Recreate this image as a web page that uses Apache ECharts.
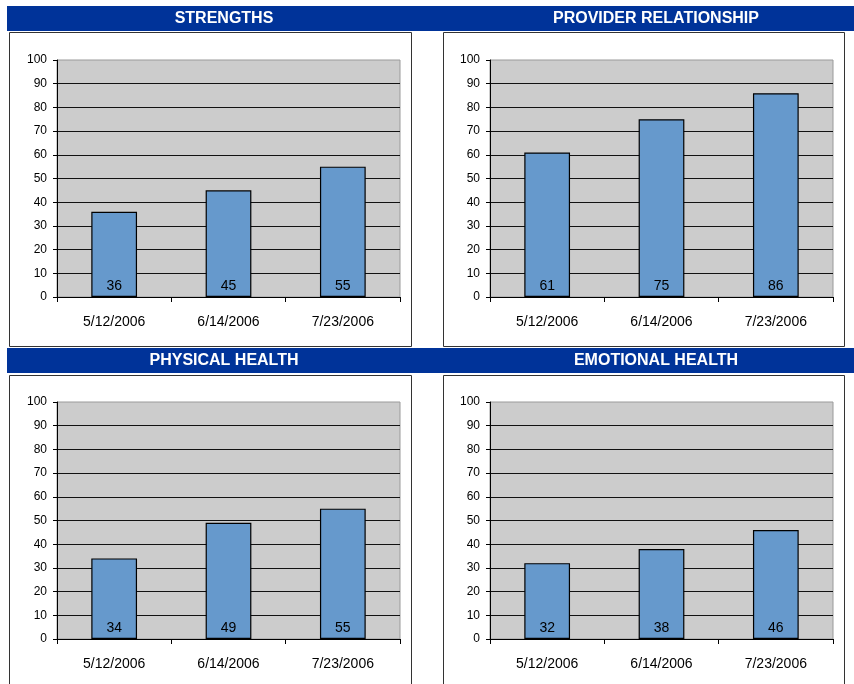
<!DOCTYPE html>
<html>
<head>
<meta charset="utf-8">
<script src="https://cdn.jsdelivr.net/npm/echarts@6/dist/echarts.min.js"></script>
<style>
  html, body { margin: 0; padding: 0; background: #fff; }
  #chart { width: 854px; height: 684px; }
</style>
</head>
<body>
<div id="chart"></div>
<script>
// Visit dates shared by all four panels
const categories = ['5/12/2006', '6/14/2006', '7/23/2006'];

// Scores per domain
const strengths = [36, 45, 55];
const providerRelationship = [61, 75, 86];
const physicalHealth = [34, 49, 55];
const emotionalHealth = [32, 38, 46];

const panelTitles = ['STRENGTHS', 'PROVIDER RELATIONSHIP', 'PHYSICAL HEALTH', 'EMOTIONAL HEALTH'];
const panelSeries = [strengths, providerRelationship, physicalHealth, emotionalHealth];

// Y-axis ticks
const yMin = 0, yMax = 100, yStep = 10;

const FONT = 'Liberation Sans, Arial, sans-serif';

// Panel geometry: plot origin, frame edges, heading position
const panels = [
  { gx: 57,  gy: 60,  bx: 9,   by: 32,  br: 411, bb: 346, titleX: 224, barY: 6 },
  { gx: 490, gy: 60,  bx: 443, by: 32,  br: 844, bb: 346, titleX: 656, barY: 6 },
  { gx: 57,  gy: 402, bx: 9,   by: 375, br: 411, bb: 700, titleX: 224, barY: 348 },
  { gx: 490, gy: 402, bx: 443, by: 375, br: 844, bb: 700, titleX: 656, barY: 348 }
];
const plotW = 343, plotH = 237;

const grids = [], xAxes = [], yAxes = [], series = [], graphics = [];

// Title bands spanning the full width
[6, 348].forEach(function (y) {
  graphics.push({
    type: 'rect', z: 1,
    shape: { x: 7, y: y, width: 847, height: 25 },
    style: { fill: '#003399' }
  });
});

panels.forEach(function (p, i) {
  grids.push({
    left: p.gx, top: p.gy, width: plotW, height: plotH,
    show: true, backgroundColor: '#CCCCCC', borderColor: '#9a9a9a', borderWidth: 1
  });
  xAxes.push({
    type: 'category', gridIndex: i, data: categories,
    axisLine: { lineStyle: { color: '#000', width: 1 } },
    axisTick: { show: true, length: 5, lineStyle: { color: '#000' } },
    axisLabel: { color: '#000', fontFamily: FONT, fontSize: 14, margin: 18 }
  });
  yAxes.push({
    type: 'value', gridIndex: i, min: yMin, max: yMax, interval: yStep,
    axisLine: { show: true, lineStyle: { color: '#000', width: 1 } },
    axisTick: { show: true, length: 4, lineStyle: { color: '#000' } },
    axisLabel: { color: '#000', fontFamily: FONT, fontSize: 12, margin: 10 },
    splitLine: { show: true, showMaxLine: false, lineStyle: { color: '#111', width: 1 } }
  });
  series.push({
    type: 'bar', xAxisIndex: i, yAxisIndex: i,
    data: panelSeries[i], barWidth: '40%',
    itemStyle: { color: '#6699CC', borderColor: '#000', borderWidth: 1.2 },
    label: {
      show: true, position: 'insideBottom', distance: 4,
      color: '#000', fontFamily: FONT, fontSize: 14
    }
  });
  // Panel frame
  graphics.push({
    type: 'rect', z: 1,
    shape: { x: p.bx + 0.5, y: p.by + 0.5, width: p.br - p.bx, height: p.bb - p.by },
    style: { fill: null, stroke: '#333', lineWidth: 1 }
  });
  // Panel heading
  graphics.push({
    type: 'text', z: 2,
    x: p.titleX, y: p.barY + 13,
    style: {
      text: panelTitles[i], fill: '#fff',
      font: 'bold 16px ' + FONT,
      textAlign: 'center', textVerticalAlign: 'middle'
    }
  });
});

const chart = echarts.init(document.getElementById('chart'), null, { renderer: 'canvas' });
chart.setOption({
  animation: false,
  grid: grids,
  xAxis: xAxes,
  yAxis: yAxes,
  series: series,
  graphic: graphics
});
</script>
</body>
</html>
